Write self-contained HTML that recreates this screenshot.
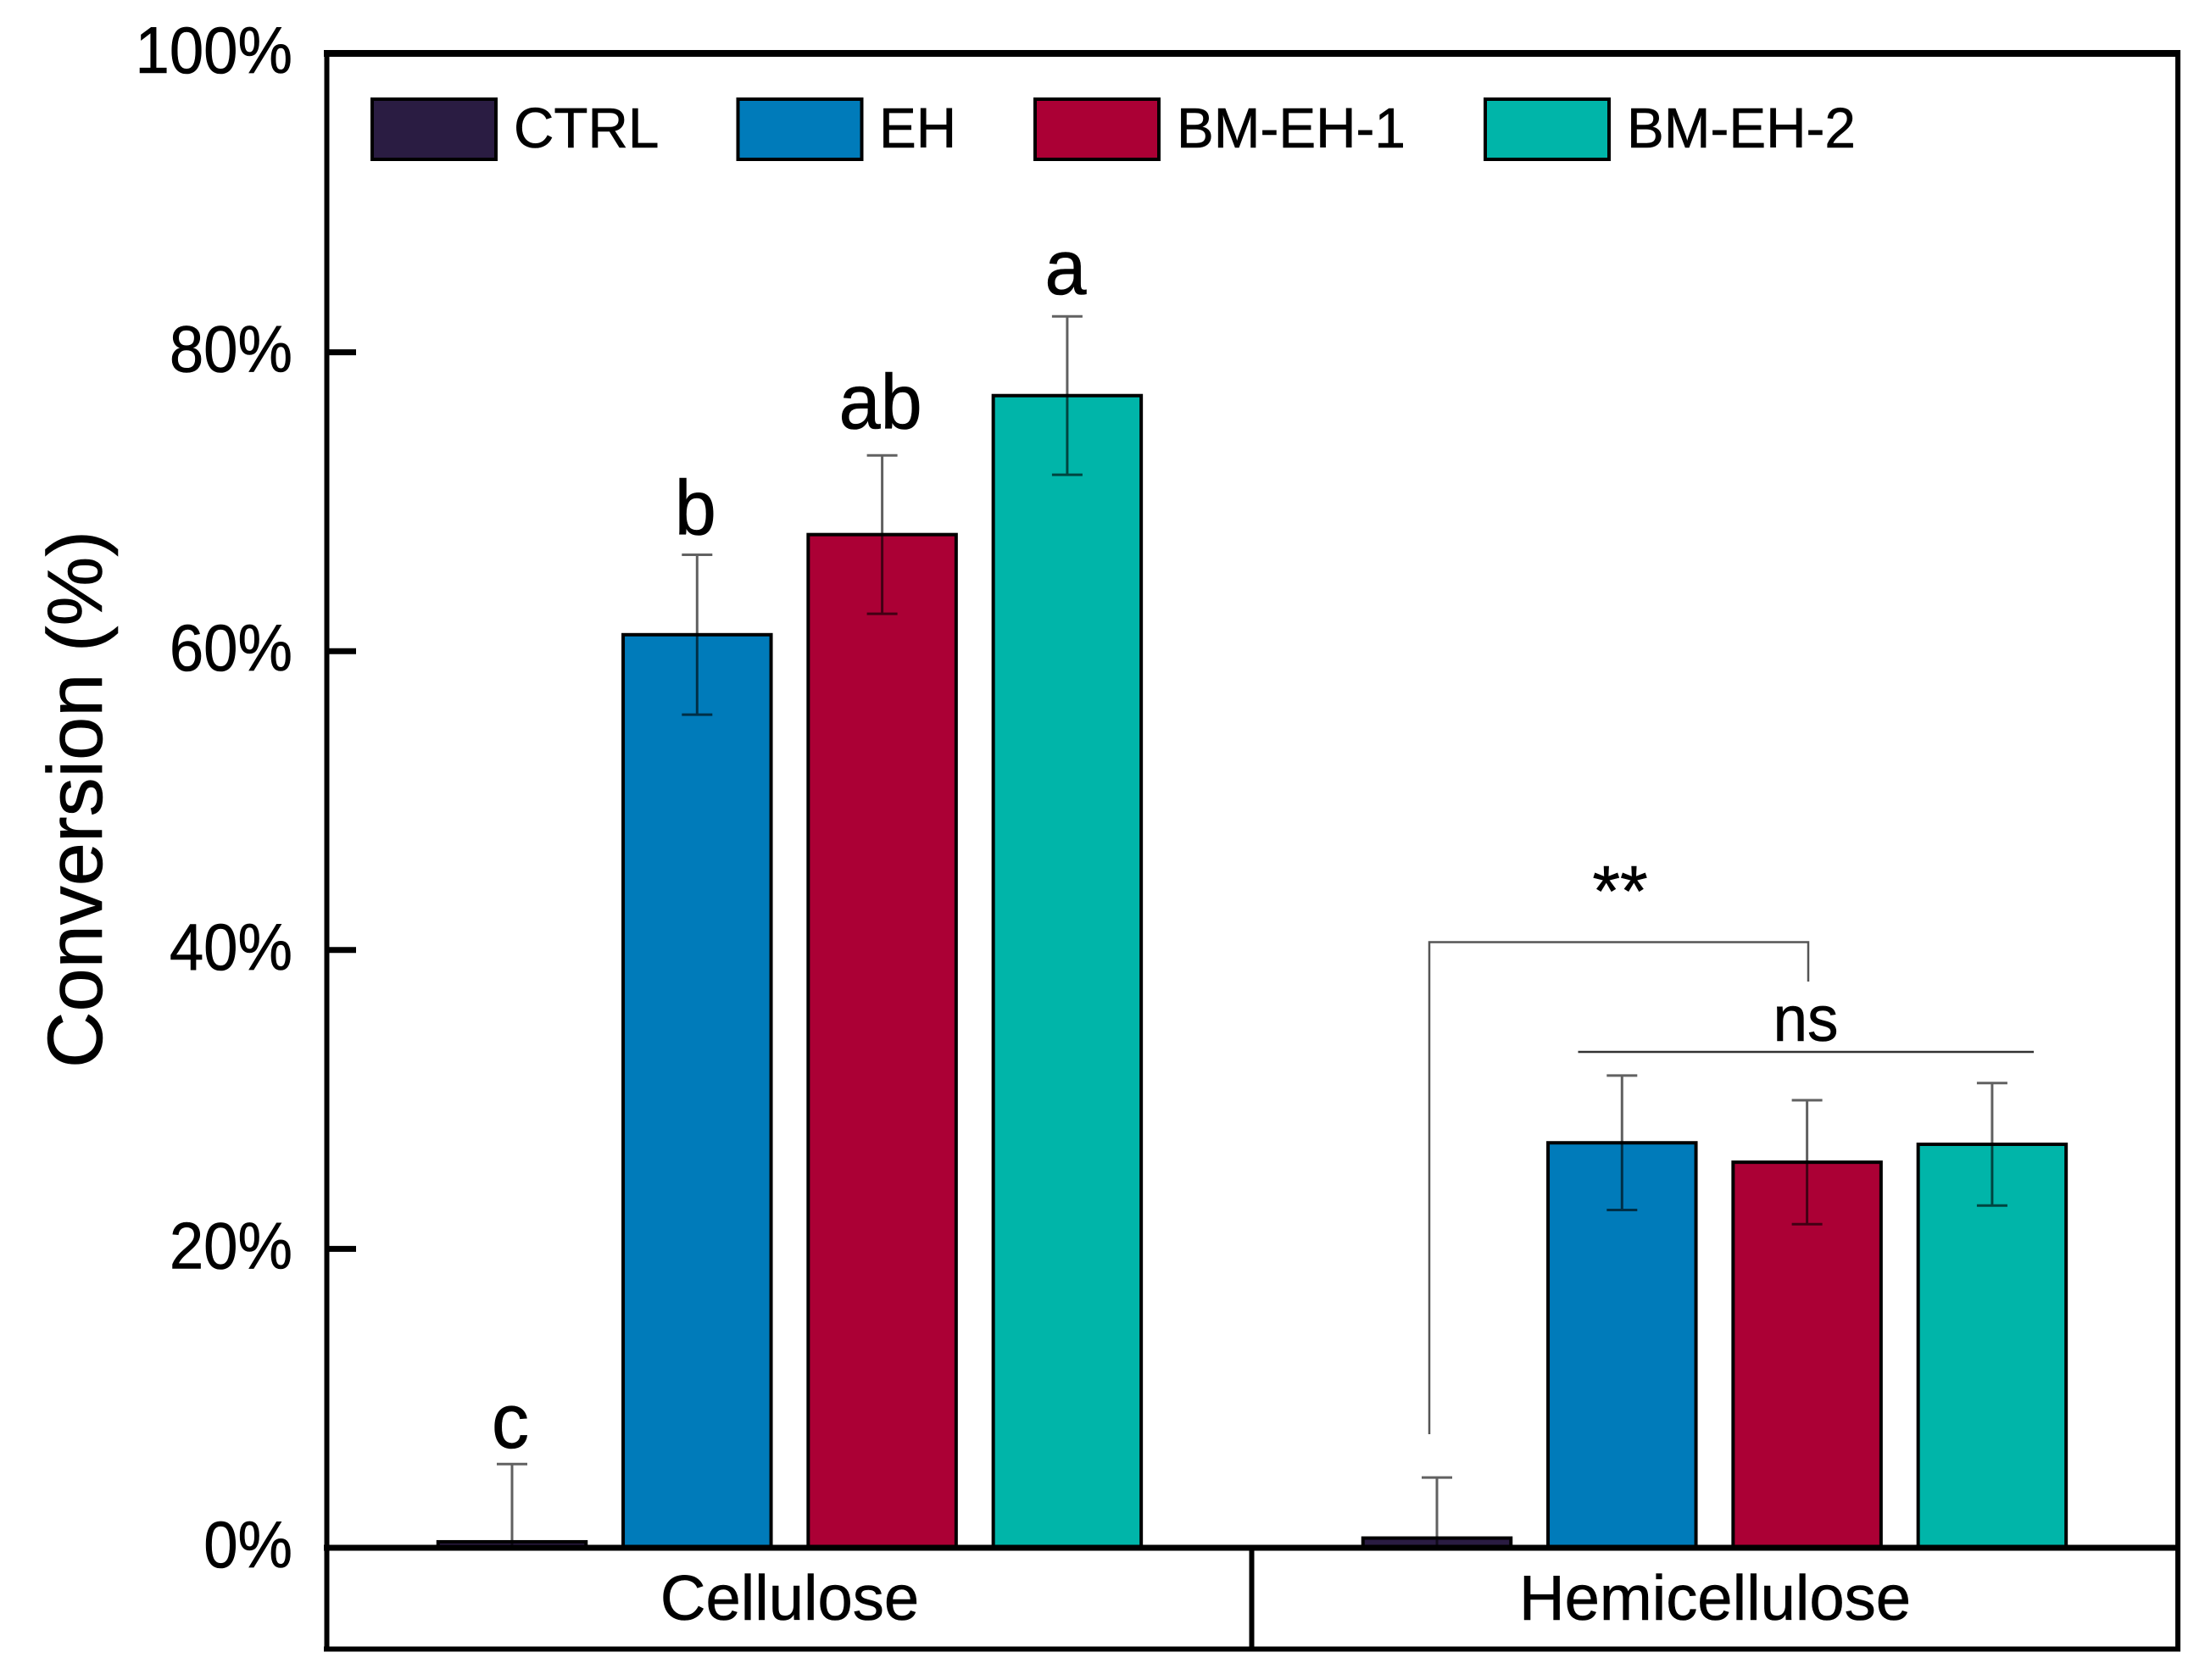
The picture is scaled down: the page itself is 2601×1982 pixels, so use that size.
<!DOCTYPE html>
<html>
<head>
<meta charset="utf-8">
<title>Conversion chart</title>
<style>
html,body{margin:0;padding:0;background:#fff;}
svg{display:block;}
text{font-family:"Liberation Sans",Arial,sans-serif;fill:#000;stroke:#000;stroke-width:0.6px;}
</style>
</head>
<body>
<svg id="chart" width="2601" height="1982" viewBox="0 0 2601 1982" xmlns="http://www.w3.org/2000/svg">
  <rect x="0" y="0" width="2601" height="1982" fill="#ffffff"/>
  <g id="bars"></g>
  <g id="errors"></g>
  <g id="letters"></g>
  <g id="ticks"></g>
  <g id="legend"></g>
  <g id="cats"></g>

  <g stroke="#000" fill="none">
    <line x1="382" y1="63" x2="2572" y2="63" stroke-width="8"/>
    <line x1="385.5" y1="60" x2="385.5" y2="1948" stroke-width="6"/>
    <line x1="2569" y1="60" x2="2569" y2="1948" stroke-width="6"/>
    <line x1="382" y1="1945.5" x2="2572" y2="1945.5" stroke-width="6"/>
    <line x1="382" y1="1826" x2="2572" y2="1826" stroke-width="7"/>
    <line x1="1476.5" y1="1826" x2="1476.5" y2="1945" stroke-width="6"/>
  </g>

  <text transform="translate(120,943) rotate(-90)" text-anchor="middle" font-size="92">Conversion (%)</text>

  <g>
    <path d="M1686 1692 V1111.5 H2133 V1158" fill="none" stroke="#555" stroke-width="2.5"/>
    <line x1="1861.5" y1="1241" x2="2399" y2="1241" stroke="#333" stroke-width="2.5"/>
    <text transform="translate(2130,1228) scale(0.96,1)" text-anchor="middle" font-size="76">ns</text>
    <text transform="translate(1911,1080)" text-anchor="middle" font-size="84">**</text>
  </g>
</svg>
<script>
var categories = ['Cellulose', 'Hemicellulose'];
var seriesNames = ['CTRL', 'EH', 'BM-EH-1', 'BM-EH-2'];
var seriesColors = ['#2a1c42', '#007bba', '#ab0035', '#00b5a9'];
var ctrlValues = [0.4, 0.65];
var ehValues = [61.1, 27.1];
var bm1Values = [67.8, 25.8];
var bm2Values = [77.1, 27.0];
var ctrlErrors = [5.2, 4.05];
var ehErrors = [5.35, 4.5];
var bm1Errors = [5.3, 4.15];
var bm2Errors = [5.3, 4.1];
var tickValues = [0, 20, 40, 60, 80, 100];
var tickLabels = ['0%', '20%', '40%', '60%', '80%', '100%'];
var cellulosePrinted = ['c', 'b', 'ab', 'a'];
var celluloseLevels = [6.7, 67.8, 74.9, 83.9];

var NS = 'http://www.w3.org/2000/svg';
var seriesValues = [ctrlValues, ehValues, bm1Values, bm2Values];
var seriesErrors = [ctrlErrors, ehErrors, bm1Errors, bm2Errors];

function yScale(v) { return 1826 - v * 17.63; }
function xCenter(groupIndex, seriesIndex) { return 604 + groupIndex * 1091 + seriesIndex * 218.3; }
var BAR_WIDTH = 174.5;
var CAP_WIDTH = 36;

function make(parentId, tag, attrs) {
  var el = document.createElementNS(NS, tag);
  for (var k in attrs) { el.setAttribute(k, attrs[k]); }
  document.getElementById(parentId).appendChild(el);
  return el;
}

seriesValues.forEach(function (vals, s) {
  vals.forEach(function (v, g) {
    var cx = xCenter(g, s);
    var rect = make('bars', 'rect', {
      x: cx - BAR_WIDTH / 2, y: yScale(v), width: BAR_WIDTH, height: yScale(0) - yScale(v),
      fill: seriesColors[s], stroke: '#000', 'stroke-width': 4
    });
    
    

    var err = seriesErrors[s][g];
    var top = yScale(v + err);
    var bottom = yScale(Math.max(v - err, 0));
    var path = make('errors', 'path', {
      d: 'M' + (cx - CAP_WIDTH / 2) + ' ' + top + ' H' + (cx + CAP_WIDTH / 2) +
         ' M' + cx + ' ' + top + ' V' + bottom +
         ' M' + (cx - CAP_WIDTH / 2) + ' ' + bottom + ' H' + (cx + CAP_WIDTH / 2),
      fill: 'none', stroke: '#000', 'stroke-opacity': 0.62, 'stroke-width': 3
    });
    
    
  });
});

cellulosePrinted.forEach(function (label, s) {
  var t = make('letters', 'text', {
    transform: 'translate(' + (xCenter(0, s) - 2) + ',' + yScale(celluloseLevels[s]) + ') scale(0.96,1)',
    'text-anchor': 'middle', 'font-size': 92
  });
  
  
  t.textContent = label;
});

tickValues.forEach(function (v, i) {
  var y = yScale(v);
  if (v > 0 && v < 100) {
    var tick = make('ticks', 'line', { x1: 385, x2: 420, y1: y, y2: y, stroke: '#000', 'stroke-width': 7 });
    
    
  }
  var t = make('ticks', 'text', {
    transform: 'translate(345,' + (y + 23) + ') scale(0.93,1)',
    'text-anchor': 'end', 'font-size': 78
  });
  
  
  t.textContent = tickLabels[i];
});

var legendSwatchX = [439, 870.5, 1221, 1752];
var legendTextX = [606, 1037, 1388, 1919];
seriesNames.forEach(function (name, s) {
  var sw = make('legend', 'rect', {
    x: legendSwatchX[s], y: 117, width: 146, height: 71,
    fill: seriesColors[s], stroke: '#000', 'stroke-width': 4
  });
  
  
  var t = make('legend', 'text', {
    transform: 'translate(' + legendTextX[s] + ',174) scale(0.98,1)',
    'font-size': 67
  });
  
  
  t.textContent = name;
});

var catCenters = [931.5, 2023];
categories.forEach(function (c, g) {
  var t = make('cats', 'text', {
    transform: 'translate(' + catCenters[g] + ',1911) scale(0.99,1)',
    'text-anchor': 'middle', 'font-size': 75
  });
  
  
  t.textContent = c;
});
</script>
</body>
</html>
